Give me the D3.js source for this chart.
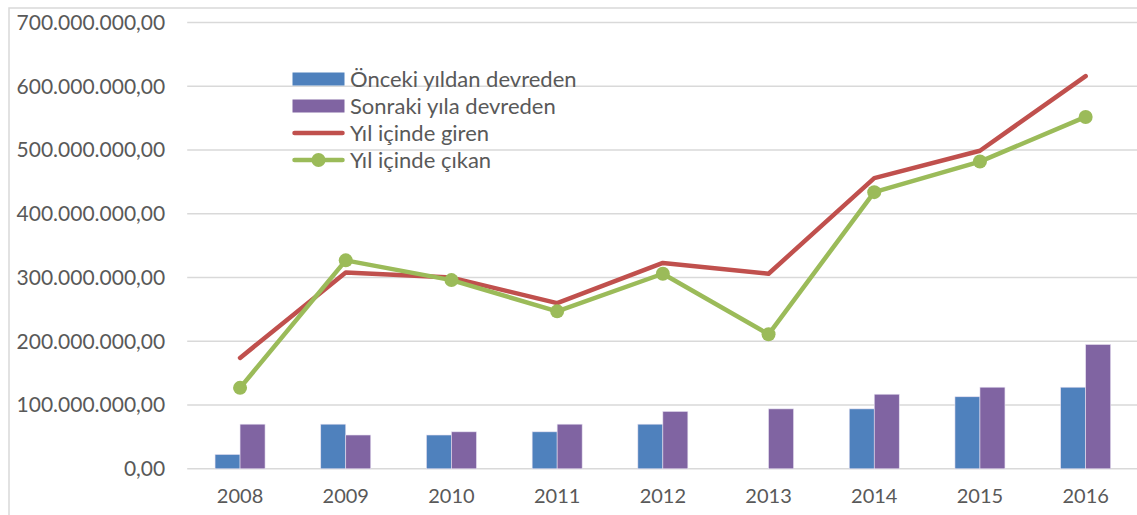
<!DOCTYPE html>
<html><head><meta charset="utf-8">
<script src="https://cdn.jsdelivr.net/npm/d3@7"></script>
<style>body{margin:0;background:#fff;}svg{display:block;}text{font-family:Lato,"Liberation Sans",sans-serif;fill:#595959;}</style>
</head><body><svg id="c" width="1137" height="515"></svg>
<script>
const years = ["2008","2009","2010","2011","2012","2013","2014","2015","2016"];
const onceki = [22.5e6,70e6,53e6,58e6,70e6,0,94e6,113e6,128e6];
const sonraki = [70e6,53e6,58e6,70e6,90e6,94e6,117e6,128e6,195e6];
const giren = [174e6,308e6,300e6,260e6,323e6,306e6,456e6,499e6,616e6];
const cikan = [127e6,327e6,296e6,247e6,306e6,211e6,434e6,482e6,552e6];
const yTicks = [0,100e6,200e6,300e6,400e6,500e6,600e6,700e6];
const seriesNames = ["Önceki yıldan devreden","Sonraki yıla devreden","Yıl içinde giren","Yıl içinde çıkan"];
const colors = ["#4f81bd","#8064a2","#c0504d","#9bbb59"];

const svg = d3.select("#c");
// outer border
svg.append("rect").attr("x",9).attr("y",8).attr("width",1200).attr("height",600)
  .attr("fill","none").attr("stroke","#d9d9d9").attr("stroke-width",1.5);

const x = d3.scaleBand().domain(years).range([187.2,1138.5]);
const y = d3.scaleLinear().domain([0,700e6]).range([468.8,22.6]);
const fmt = v => d3.format(",.2f")(v).replace(/,/g,"#").replace(/\./g,",").replace(/#/g,".");

// gridlines
svg.append("g").selectAll("line").data(yTicks).join("line")
  .attr("x1",187.2).attr("x2",1138.5).attr("y1",d=>y(d)).attr("y2",d=>y(d))
  .attr("stroke","#d9d9d9").attr("stroke-width",1.5);

// y axis labels
const yAxis = d3.axisLeft(y).tickValues(yTicks).tickFormat(fmt).tickSize(0).tickPadding(22);
const gy = svg.append("g").attr("transform","translate(187.2,0)").call(yAxis);
gy.select(".domain").remove();
gy.selectAll("text").attr("font-size",21).attr("font-family","Lato").attr("fill","#595959");

// x axis labels
const xAxis = d3.axisBottom(x).tickSize(0).tickPadding(20);
const gx = svg.append("g").attr("transform","translate(0,468.8)").call(xAxis);
gx.select(".domain").remove();
gx.selectAll("text").attr("font-size",20).attr("font-family","Lato").attr("fill","#595959");

// bars
const bw = 25;
const barG = svg.append("g");
[onceki, sonraki].forEach((arr,i)=>{
  barG.selectAll(null).data(arr).join("rect")
    .attr("x",(d,j)=>x(years[j])+x.bandwidth()/2 - bw + i*bw)
    .attr("y",d=>y(d)).attr("width",bw).attr("height",d=>y(0)-y(d))
    .attr("fill",colors[i]).attr("stroke","#e6e0f0").attr("stroke-width",0.6);
});

// lines
const line = d3.line().x((d,j)=>x(years[j])+x.bandwidth()/2).y(d=>y(d));
svg.append("path").datum(giren).attr("d",line).attr("fill","none")
  .attr("stroke",colors[2]).attr("stroke-width",4.5).attr("stroke-linecap","round").attr("stroke-linejoin","round");
svg.append("path").datum(cikan).attr("d",line).attr("fill","none")
  .attr("stroke",colors[3]).attr("stroke-width",4.5).attr("stroke-linecap","round").attr("stroke-linejoin","round");
svg.append("g").selectAll("circle").data(cikan).join("circle")
  .attr("cx",(d,j)=>x(years[j])+x.bandwidth()/2).attr("cy",d=>y(d)).attr("r",7).attr("fill",colors[3]);

// legend
const lg = svg.append("g").attr("transform","translate(292.5,79)");
seriesNames.forEach((n,i)=>{
  const g = lg.append("g").attr("transform",`translate(0,${i*27})`);
  if(i<2){
    g.append("rect").attr("x",0).attr("y",-6.5).attr("width",52).attr("height",13).attr("fill",colors[i]);
  } else {
    g.append("line").attr("x1",2).attr("x2",50).attr("y1",0).attr("y2",0)
      .attr("stroke",colors[i]).attr("stroke-width",4.5).attr("stroke-linecap","round");
    if(i===3) g.append("circle").attr("cx",26).attr("cy",0).attr("r",7).attr("fill",colors[i]);
  }
  g.append("text").attr("x",57.5).attr("y",0).attr("dy","0.35em").attr("font-size",22).text(n);
});
</script></body></html>
